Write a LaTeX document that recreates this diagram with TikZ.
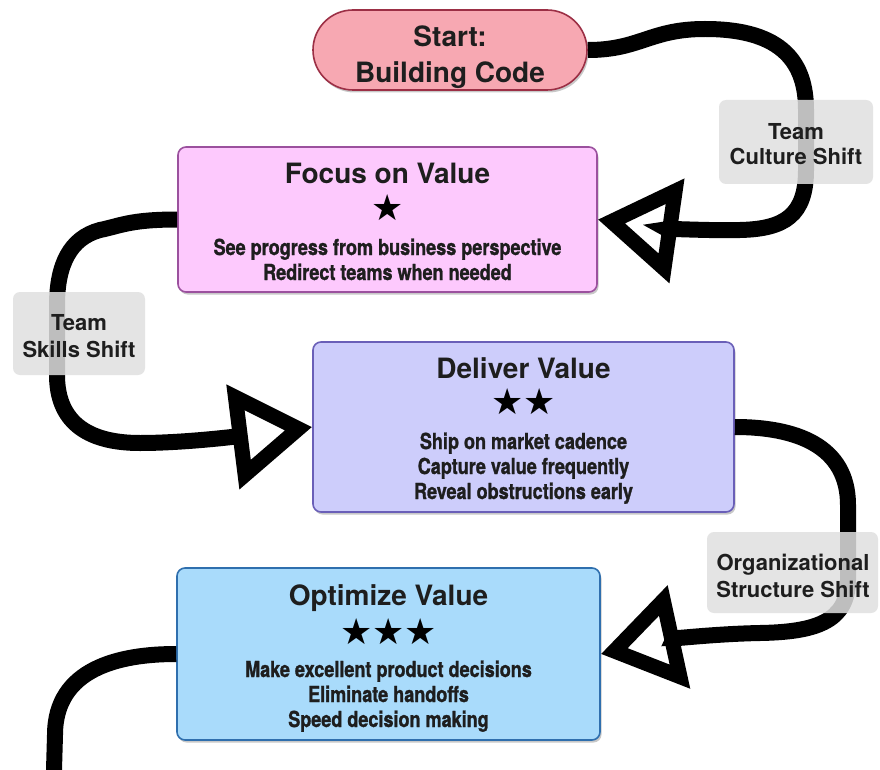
\documentclass[tikz,border=0pt]{standalone}
\usepackage{fontspec}
\setmainfont{TeX Gyre Heros}
\newfontfamily\condfont[FakeStretch=0.82,FakeBold=1.2]{TeX Gyre Heros}
\newfontfamily\symfont{DejaVu Sans}
\usetikzlibrary{arrows.meta,shadows}
\definecolor{startfill}{HTML}{F7A8B2}
\definecolor{startdraw}{HTML}{9C2F45}
\definecolor{focusfill}{HTML}{FDC9FD}
\definecolor{focusdraw}{HTML}{9B519E}
\definecolor{delivfill}{HTML}{CDCDFB}
\definecolor{delivdraw}{HTML}{6A5FB8}
\definecolor{optfill}{HTML}{A9DBFB}
\definecolor{optdraw}{HTML}{2F6FAE}
\definecolor{labfill}{HTML}{E0E0E0}
\definecolor{ink}{HTML}{1E1E1E}
\begin{document}
\begin{tikzpicture}[x=1pt,y=-1pt,
  stage/.style={draw, line width=1.6pt, rounded corners=8pt, inner sep=0pt,
    drop shadow={shadow xshift=1.5pt, shadow yshift=-2.5pt, opacity=0.3, fill=black!70}},
  titletext/.style={anchor=base, inner sep=0pt, text=ink, font=\fontsize{28}{28}\selectfont\bfseries},
  bodytext/.style={anchor=base, inner sep=0pt, text=ink, font=\condfont\fontsize{22}{22}\selectfont\bfseries},
  startext/.style={stars, font=\symfont\fontsize{36}{36}\selectfont},
  stars/.style={inner sep=0pt, text=black},
  labelbox/.style={fill=labfill, fill opacity=0.85, rounded corners=7pt, inner sep=0pt},
  labeltext/.style={anchor=base, inner sep=0pt, text=ink, font=\fontsize{22}{22}\selectfont\bfseries},
  flow/.style={line width=16pt, draw=black,
    -{Triangle[open, length=80pt, width=102pt, line width=15pt]}},
  plainflow/.style={line width=16pt, draw=black}
]
\useasboundingbox[fill=white] (0,0) rectangle (880,770);

% boxes
\node[stage, fill=startfill, draw=startdraw, rounded corners=40pt,
  minimum width=274pt, minimum height=80pt] (start) at (450,50) {};
\node[stage, fill=focusfill, draw=focusdraw,
  minimum width=419pt, minimum height=145pt] (focus) at (387.5,219.5) {};
\node[stage, fill=delivfill, draw=delivdraw,
  minimum width=421pt, minimum height=170pt] (deliver) at (523.5,427) {};
\node[stage, fill=optfill, draw=optdraw,
  minimum width=423pt, minimum height=172pt] (optimize) at (388.5,654) {};

% texts
\node[titletext] (startA) at (450,47) {Start:};
\node[titletext] (startB) at (450,83) {Building Code};

\node[titletext] (focusT) at (387.5,184) {Focus on Value};
\node[startext] (focusS) at (387.5,208) {★};
\node[bodytext] (focusL1) at (387.5,255) {See progress from business perspective};
\node[bodytext] (focusL2) at (387.5,280) {Redirect teams when needed};

\node[titletext] (delivT) at (523.5,378) {Deliver Value};
\node[startext] (delivS) at (523.5,402) {★★};
\node[bodytext] (delivL1) at (523.5,449) {Ship on market cadence};
\node[bodytext] (delivL2) at (523.5,474) {Capture value frequently};
\node[bodytext] (delivL3) at (523.5,499) {Reveal obstructions early};

\node[titletext] (optT) at (388.5,605) {Optimize Value};
\node[startext] (optS) at (388.5,632) {★★★};
\node[bodytext] (optL1) at (388.5,677) {Make excellent product decisions};
\node[bodytext] (optL2) at (388.5,702) {Eliminate handoffs};
\node[bodytext] (optL3) at (388.5,727) {Speed decision making};

% connectors
\draw[flow] (start.east) .. controls (640,50) and (650,29) .. (705,29)
  .. controls (785,29) and (806,65) .. (806,110) -- (806,170)
  .. controls (806,215) and (785,229) .. (740,230)
  .. controls (700,231) and (650,227) .. (focus.east);
\draw[flow] (focus.west) .. controls (130,219.5) and (120,226) .. (100,230)
  .. controls (70,238) and (57,265) .. (57,305) -- (57,375)
  .. controls (57,420) and (85,443) .. (140,443)
  .. controls (185,443) and (240,436) .. (deliver.west);
\draw[flow] (deliver.east) .. controls (795,427) and (848,445) .. (848,505) -- (848,580)
  .. controls (848,622) and (815,632) .. (760,633)
  .. controls (710,634) and (665,640) .. (optimize.east);
\coordinate (exit) at (54,770);
\draw[plainflow] (optimize.west) .. controls (120,654) and (55,668) .. (55,735) -- (exit);

% shift labels
\node[labelbox, minimum width=154pt, minimum height=84pt] (cultureBox) at (796,142) {};
\node[labeltext] (cultureA) at (796,140) {Team};
\node[labeltext] (cultureB) at (796,165) {Culture Shift};

\node[labelbox, minimum width=132pt, minimum height=83pt] (skillsBox) at (79,333.5) {};
\node[labeltext] (skillsA) at (79,330) {Team};
\node[labeltext] (skillsB) at (79,357) {Skills Shift};

\node[labelbox, minimum width=171pt, minimum height=81pt] (orgBox) at (792.5,572.5) {};
\node[labeltext] (orgA) at (793,570) {Organizational};
\node[labeltext] (orgB) at (793,597) {Structure Shift};
\end{tikzpicture}
\end{document}
